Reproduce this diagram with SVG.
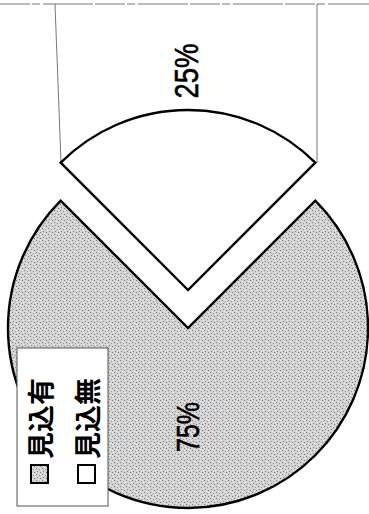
<svg xmlns="http://www.w3.org/2000/svg" width="369" height="514" viewBox="0 0 369 514">
<style>
.slice{stroke:#000;stroke-width:2.4;stroke-linejoin:miter}
.lead{stroke:#777;stroke-width:1;fill:none}
.pct{font-family:"Liberation Sans",Arial,sans-serif;fill:#000;stroke:#000;stroke-width:0.6}
.jp{font-family:"Noto Sans CJK JP","Noto Sans CJK SC",sans-serif;fill:#000;font-size:27px;font-weight:bold}
</style>
<defs>
<pattern id="stip" width="6" height="6" patternUnits="userSpaceOnUse">
<rect width="6" height="6" fill="#d2d2d2"/>
<rect x="0" y="0" width="1" height="1" fill="#7a7a7a"/>
<rect x="3" y="1" width="1" height="1" fill="#9a9a9a"/>
<rect x="1" y="3" width="1" height="1" fill="#888"/>
<rect x="4" y="4" width="1" height="1" fill="#7a7a7a"/>
<rect x="5" y="2" width="1" height="1" fill="#f2f2f2"/>
<rect x="2" y="5" width="1" height="1" fill="#f2f2f2"/>
<rect x="4" y="0" width="1" height="1" fill="#ececec"/>
</pattern>
</defs>
<rect width="369" height="514" fill="#fff"/>
<g id="connectors">
<line class="lead" x1="0" y1="4" x2="369" y2="4" stroke-dasharray="30 2 8 3 50 2"/>
<line class="lead" x1="55" y1="4" x2="61" y2="163"/>
<line class="lead" x1="317" y1="4" x2="317" y2="163"/>
</g>
<g id="slice-mikomi-nashi">
<path class="slice" fill="url(#stip)" d="M188,328 L60.7,200.7 A180,180 0 1 0 315.3,200.7 Z"/>
<text class="pct" font-size="31" text-anchor="middle" textLength="50" lengthAdjust="spacingAndGlyphs" transform="translate(199,427) rotate(-90)">75%</text>
</g>
<g id="slice-mikomi-ari">
<path class="slice" fill="#fff" d="M188,290 L60.7,162.7 A180,180 0 0 1 315.3,162.7 Z"/>
<text class="pct" font-size="33" text-anchor="middle" textLength="55" lengthAdjust="spacingAndGlyphs" transform="translate(198,71) rotate(-90)">25%</text>
</g>
<g id="legend">
<rect x="17" y="348" width="91" height="158" fill="#fff" stroke="#555" stroke-width="1"/>
<rect x="31" y="465" width="17" height="18" fill="url(#stip)" stroke="#000" stroke-width="2"/>
<text class="jp" transform="translate(51,459) rotate(-90)">見込有</text>
<rect x="78" y="465" width="17" height="18" fill="#fff" stroke="#000" stroke-width="2"/>
<text class="jp" transform="translate(98,459) rotate(-90)">見込無</text>
</g>
</svg>
